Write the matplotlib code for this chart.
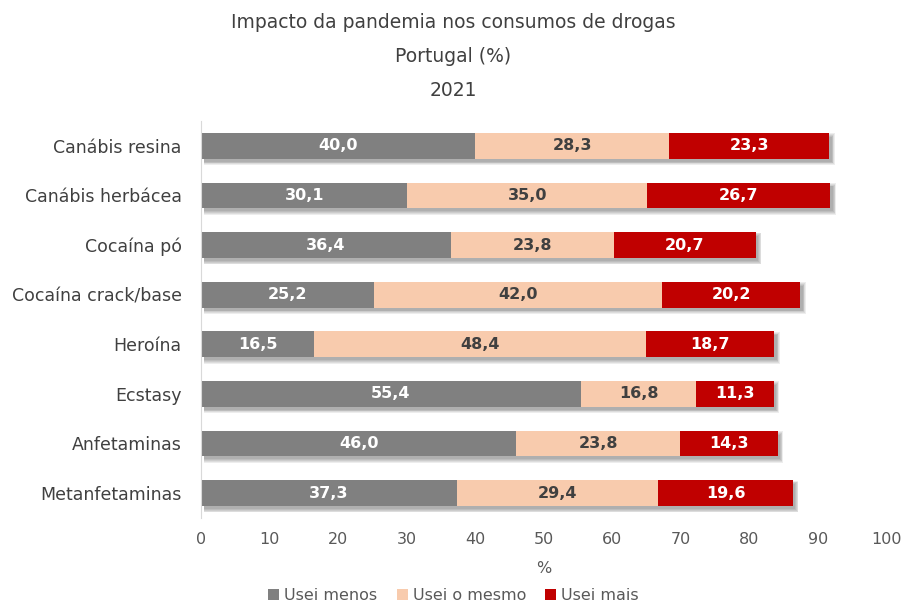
import matplotlib.pyplot as plt
from matplotlib.patches import Patch
import numpy as np

categorias = ["Canábis resina", "Canábis herbácea", "Cocaína pó", "Cocaína crack/base",
              "Heroína", "Ecstasy", "Anfetaminas", "Metanfetaminas"]
usei_menos = [40.0, 30.1, 36.4, 25.2, 16.5, 55.4, 46.0, 37.3]
usei_mesmo = [28.3, 35.0, 23.8, 42.0, 48.4, 16.8, 23.8, 29.4]
usei_mais = [23.3, 26.7, 20.7, 20.2, 18.7, 11.3, 14.3, 19.6]
series = ["Usei menos", "Usei o mesmo", "Usei mais"]
cores = ["#808080", "#F8CBAD", "#C00000"]
cores_texto = ["white", "#404040", "white"]

plt.rcParams['font.family'] = ['DejaVu Sans']

fig = plt.figure(figsize=(9.07, 6.05), dpi=100)
ax = fig.add_axes([0.2216, 0.144, 0.756, 0.656])

y = np.arange(len(categorias))
total = np.array(usei_menos) + np.array(usei_mesmo) + np.array(usei_mais)

# sombra suave atrás de cada barra
for k in range(5):
    ax.barh(y + 0.07, total + 0.1 * k, left=0.4, height=0.50 + 0.035 * k,
            color="black", alpha=0.07, linewidth=0, zorder=1)

esquerda = np.zeros(len(categorias))
for nome, valores, cor, ct in zip(series, [usei_menos, usei_mesmo, usei_mais], cores, cores_texto):
    ax.barh(y, valores, left=esquerda, height=0.52, color=cor, linewidth=0, zorder=2)
    for yi, l, v in zip(y, esquerda, valores):
        ax.text(l + v / 2, yi, f"{v:.1f}".replace(".", ","), ha="center", va="center",
                color=ct, fontsize=11.5, fontweight="bold", zorder=3)
    esquerda = esquerda + np.array(valores)

ax.set_xlim(0, 100)
ax.set_ylim(len(categorias) - 0.5, -0.5)
ax.set_yticks(y)
ax.set_yticklabels(categorias, fontsize=12.5, color="#404040")
ax.set_xticks(np.arange(0, 101, 10))
ax.tick_params(axis="x", labelsize=11.5, labelcolor="#595959", length=0, pad=10)
ax.tick_params(axis="y", length=0, pad=14)
for s in ["top", "right", "bottom"]:
    ax.spines[s].set_visible(False)
ax.spines["left"].set_color("#D9D9D9")
ax.set_xlabel("%", fontsize=11.5, color="#595959", labelpad=10)

fig.text(0.5, 0.963, "Impacto da pandemia nos consumos de drogas", ha="center", va="center",
         fontsize=13.5, color="#404040")
fig.text(0.5, 0.906, "Portugal (%)", ha="center", va="center", fontsize=13.5, color="#404040")
fig.text(0.5, 0.850, "2021", ha="center", va="center", fontsize=13.5, color="#404040")

handles = [Patch(facecolor=c, edgecolor="none") for c in cores]
fig.legend(handles, series, loc="center", bbox_to_anchor=(0.5, 0.015), ncol=3, frameon=False,
           fontsize=11.5, handlelength=0.7, handleheight=0.7, handletextpad=0.3,
           columnspacing=1.2, labelcolor="#595959")

fig.savefig("out.png", dpi=100)
